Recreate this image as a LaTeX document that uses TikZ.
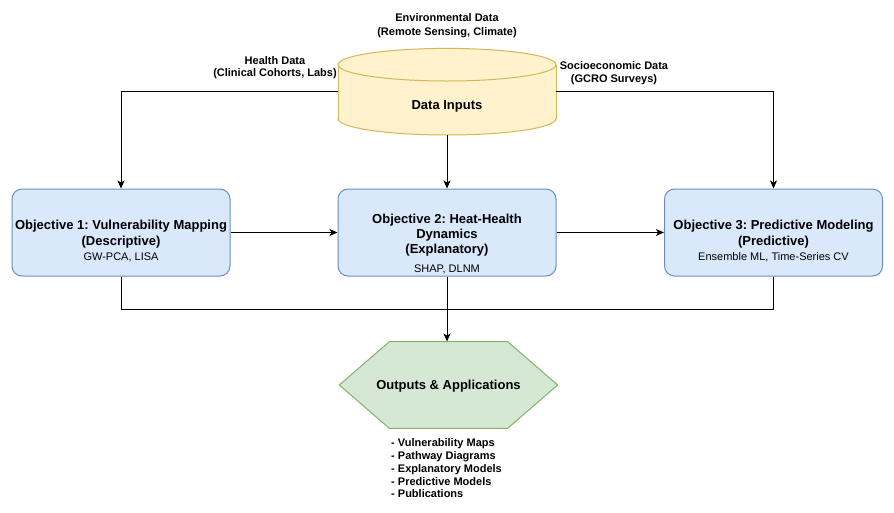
\documentclass[tikz,border=0pt]{standalone}
\usepackage{fontspec}
\setmainfont{Liberation Sans}
\usetikzlibrary{arrows.meta}
\frenchspacing
\definecolor{boxfill}{HTML}{DAE8FC}
\definecolor{boxline}{HTML}{6C8EBF}
\definecolor{cylfill}{HTML}{FFF2CC}
\definecolor{cylline}{HTML}{D6B656}
\definecolor{hexfill}{HTML}{D5E8D4}
\definecolor{hexline}{HTML}{82B366}
\begin{document}
\begin{tikzpicture}[x=1pt,y=-1pt,
  objbox/.style={rectangle, rounded corners=10pt, draw=boxline, fill=boxfill, line width=1pt,
    minimum width=218pt, minimum height=87pt, inner sep=0pt},
  hold/.style={rectangle, inner sep=0pt, minimum width=218pt, minimum height=87pt},
  ttl/.style={anchor=base, inner sep=0pt, font=\fontsize{13}{15}\selectfont\bfseries\frenchspacing},
  lbl/.style={anchor=base, inner sep=0pt, font=\fontsize{11}{13}\selectfont\bfseries\frenchspacing},
  sub/.style={anchor=base, inner sep=0pt, font=\fontsize{11}{13}\selectfont\frenchspacing},
  item/.style={anchor=base west, inner sep=0pt, font=\fontsize{11}{13}\selectfont\bfseries\frenchspacing},
  conn/.style={draw=black, line width=1pt},
  arr/.style={conn, -{Stealth[length=8pt,width=7pt,inset=2pt]}}
]
\useasboundingbox (0,0) rectangle (894,512);

% cylinder
\fill[cylfill] (447,118.7) ellipse [x radius=109, y radius=16.3];
\fill[cylfill] (338,64.7) rectangle (556,118.7);
\begin{scope}
  \clip (330,118.7) rectangle (564,142);
  \draw[cylline, line width=1pt] (447,118.7) ellipse [x radius=109, y radius=16.3];
\end{scope}
\draw[cylline, line width=1pt] (338,64.7) -- (338,118.7) (556,64.7) -- (556,118.7);
\draw[cylline, line width=1pt, fill=cylfill] (447,64.7) ellipse [x radius=109, y radius=16.3];
\node[hold] (data) at (447,91.5) {};
\node[ttl] (datat) at (447,109.7) {Data Inputs};

% source labels
\node[lbl] (env1) at (447,21.5) {Environmental Data};
\node[lbl] (env2) at (447,35) {(Remote Sensing, Climate)};
\node[lbl] (hl1) at (275,64) {Health Data};
\node[lbl] (hl2) at (275,76.5) {(Clinical Cohorts, Labs)};
\node[lbl] (se1) at (614,69) {Socioeconomic Data};
\node[lbl] (se2) at (614,82) {(GCRO Surveys)};

% objective boxes
\node[objbox] (b1) at (121,232.5) {};
\node[objbox] (b2) at (447,232.5) {};
\node[objbox] (b3) at (773.5,232.5) {};

\node[ttl] (b1a) at (121,229) {Objective 1: Vulnerability Mapping};
\node[ttl] (b1b) at (121,245.4) {(Descriptive)};
\node[sub] (b1c) at (121,260.7) {GW-PCA, LISA};

\node[ttl] (b2a) at (447,223) {Objective 2: Heat-Health};
\node[ttl] (b2b) at (447,238) {Dynamics};
\node[ttl] (b2c) at (447,253.7) {(Explanatory)};
\node[sub] (b2d) at (447,272.3) {SHAP, DLNM};

\node[ttl] (b3a) at (773.5,229) {Objective 3: Predictive Modeling};
\node[ttl] (b3b) at (773.5,245.4) {(Predictive)};
\node[sub] (b3c) at (773.5,260.7) {Ensemble ML, Time-Series CV};

% hexagon
\draw[hexline, fill=hexfill, line width=1pt] (339.3,385) -- (389.3,341.7) -- (507.7,341.7)
  -- (557.7,385) -- (507.7,428.3) -- (389.3,428.3) -- cycle;
\node[hold, minimum height=86.6pt] (out) at (448.5,385) {};
\node[ttl] (outt) at (448.5,389.7) {Outputs \& Applications};

\node[item] (l1) at (391,446.7) {- Vulnerability Maps};
\node[item] (l2) at (391,459.5) {- Pathway Diagrams};
\node[item] (l3) at (391,472.3) {- Explanatory Models};
\node[item] (l4) at (391,485.1) {- Predictive Models};
\node[item] (l5) at (391,497.9) {- Publications};

% connectors
\draw[arr] (data.west) -| (b1.north);
\draw[arr] (data.east) -| (b3.north);
\draw[arr] (data.south) -- (b2.north);
\draw[arr] (b1.east) -- (b2.west);
\draw[arr] (b2.east) -- (b3.west);
\coordinate (m) at (447,309);
\draw[conn] (b1.south) |- (m);
\draw[conn] (b3.south) |- (m);
\draw[arr] (b2.south) -- (b2.south |- out.north);
\end{tikzpicture}
\end{document}
